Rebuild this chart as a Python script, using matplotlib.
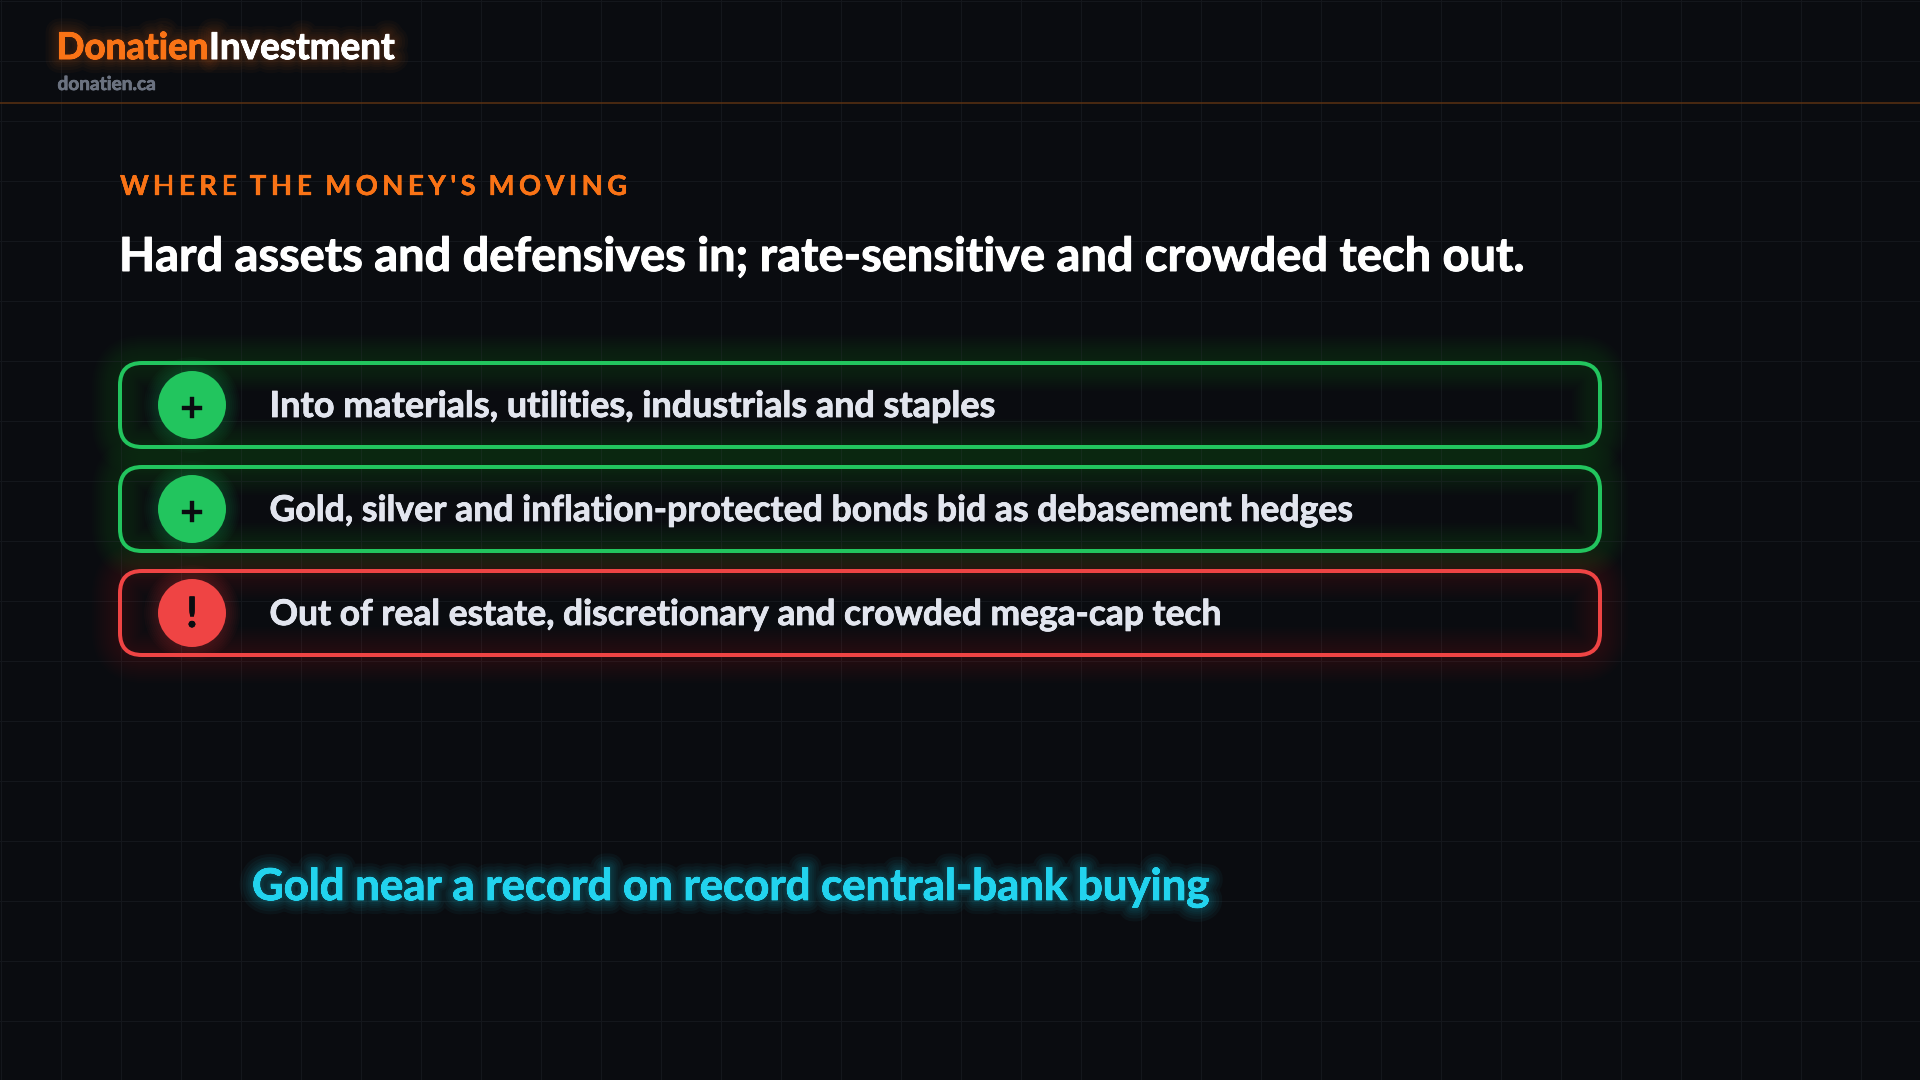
import matplotlib
matplotlib.use("Agg")
import matplotlib.pyplot as plt
from matplotlib.patches import FancyBboxPatch, Circle
import matplotlib.patheffects as pe

BG = "#0a0c10"
GRID = "#14171c"
ORANGE = "#f97316"
GREEN = "#22c55e"
RED = "#ef4444"
CYAN = "#22d3ee"

brand = ["Donatien", "Investment"]
site = "donatien.ca"
eyebrow = "WHERE THE MONEY'S MOVING"
title = "Hard assets and defensives in; rate-sensitive and crowded tech out."
card_labels = [
    "Into materials, utilities, industrials and staples",
    "Gold, silver and inflation-protected bonds bid as debasement hedges",
    "Out of real estate, discretionary and crowded mega-cap tech",
]
card_icons = ["+", "+", "!"]
card_colors = [GREEN, GREEN, RED]
callout = "Gold near a record on record central-bank buying"

PX = 72 / 100  # points per pixel at dpi 100

plt.rcParams["font.family"] = ["Lato", "DejaVu Sans"]

fig = plt.figure(figsize=(19.2, 10.8), dpi=100, facecolor=BG)
ax = fig.add_axes([0, 0, 1, 1])
ax.set_xlim(0, 1920)
ax.set_ylim(1080, 0)
ax.axis("off")


def heavy(color, extra, glow_color=None, widths=(), alpha=0.0):
    # halo first, then a thin stroke of the text colour to thicken the glyphs
    effects = [pe.withStroke(linewidth=w * PX, foreground=glow_color, alpha=alpha) for w in widths]
    effects.append(pe.withStroke(linewidth=extra * PX, foreground=color))
    effects.append(pe.Normal())
    return effects


def fit_text(x, y, s, px, right, **kw):
    # shrink the font until the string ends where it does in the picture
    t = ax.text(x, y, s, fontsize=px * PX, va="baseline", ha="left", **kw)
    r = fig.canvas.get_renderer()
    w = t.get_window_extent(r).width
    t.set_fontsize(px * PX * (right - x) / w)
    return t


# background grid
for gx in range(0, 1920, 60):
    ax.plot([gx + 0.5, gx + 0.5], [0, 1080], color=GRID, lw=1 * PX, zorder=1)
for gy in range(0, 1080, 60):
    ax.plot([0, 1920], [gy + 0.5, gy + 0.5], color=GRID, lw=1 * PX, zorder=1)

# header
ax.plot([0, 1920], [103, 103], color="#5c3212", lw=1.5 * PX, zorder=2)
halo = (4, 8, 12, 16, 22, 28)
t = fit_text(56.5, 59, brand[0], 38, 208.5, color=ORANGE, fontweight="bold", zorder=5)
t.set_path_effects(heavy(ORANGE, 1.0, ORANGE, halo, 0.03))
t = fit_text(209, 59, brand[1], 38, 395, color="#ffffff", fontweight="bold", zorder=5)
t.set_path_effects(heavy("#ffffff", 1.0, ORANGE, halo, 0.03))
t = fit_text(57.5, 90, site, 18, 156, color="#6b7280", fontweight="bold", zorder=5)
t.set_path_effects(heavy("#6b7280", 0.7))

# eyebrow, letter spaced so placed one glyph at a time
ex = 120
r = fig.canvas.get_renderer()
for ch in eyebrow:
    t = ax.text(ex, 195, ch, fontsize=27.5 * PX, color=ORANGE, fontweight="bold", va="baseline", zorder=5)
    t.set_path_effects(heavy(ORANGE, 0.3))
    if ch == " ":
        adv = 27.5 * 0.19
    else:
        adv = t.get_window_extent(r).width + 1.2
    ex += adv + 3.2

t = fit_text(119, 271, title, 46, 1524, color="#ffffff", fontweight="bold", zorder=5)
t.set_path_effects(heavy("#ffffff", 1.0))

# cards
card_x0 = 120
card_x1 = 1600
card_h = 84
card_centers = [405, 509, 613]
text_right = [996, 1354, 1222]
for cy, label, icon, col, right in zip(card_centers, card_labels, card_icons, card_colors, text_right):
    top = cy - card_h / 2
    box = dict(boxstyle="round,pad=0,rounding_size=22")
    # soft glow on both sides of the border
    for lw in range(8, 60, 4):
        ax.add_patch(FancyBboxPatch((card_x0, top), card_x1 - card_x0, card_h, fill=False,
                                    edgecolor=col, lw=lw * PX, alpha=0.012, zorder=3, **box))
    ax.add_patch(FancyBboxPatch((card_x0, top), card_x1 - card_x0, card_h, fill=False,
                                edgecolor=col, lw=4 * PX, zorder=4, **box))
    for rad in range(36, 50, 2):
        ax.add_patch(Circle((192, cy), rad, color=col, alpha=0.03, lw=0, zorder=4))
    ax.add_patch(Circle((192, cy), 34, color=col, lw=0, zorder=5))
    t = ax.text(192, cy + (5 if icon == "+" else 2), icon, fontsize=42 * PX, color="#0a0c10", fontweight="bold",
                ha="center", va="center", zorder=6)
    t.set_path_effects(heavy("#0a0c10", 0.4))
    t = fit_text(269.5, cy + 12, label, 36, right, color="#e2e5ee", fontweight="bold", zorder=6)
    t.set_path_effects(heavy("#e2e5ee", 0.8))

# callout
t = fit_text(252, 900, callout, 44, 1207.5, color=CYAN, fontweight="bold", zorder=5)
t.set_path_effects(heavy(CYAN, 0.8, CYAN, (4, 8, 12, 16, 22, 28), 0.045))

fig.savefig("out.png", dpi=100, facecolor=BG)
